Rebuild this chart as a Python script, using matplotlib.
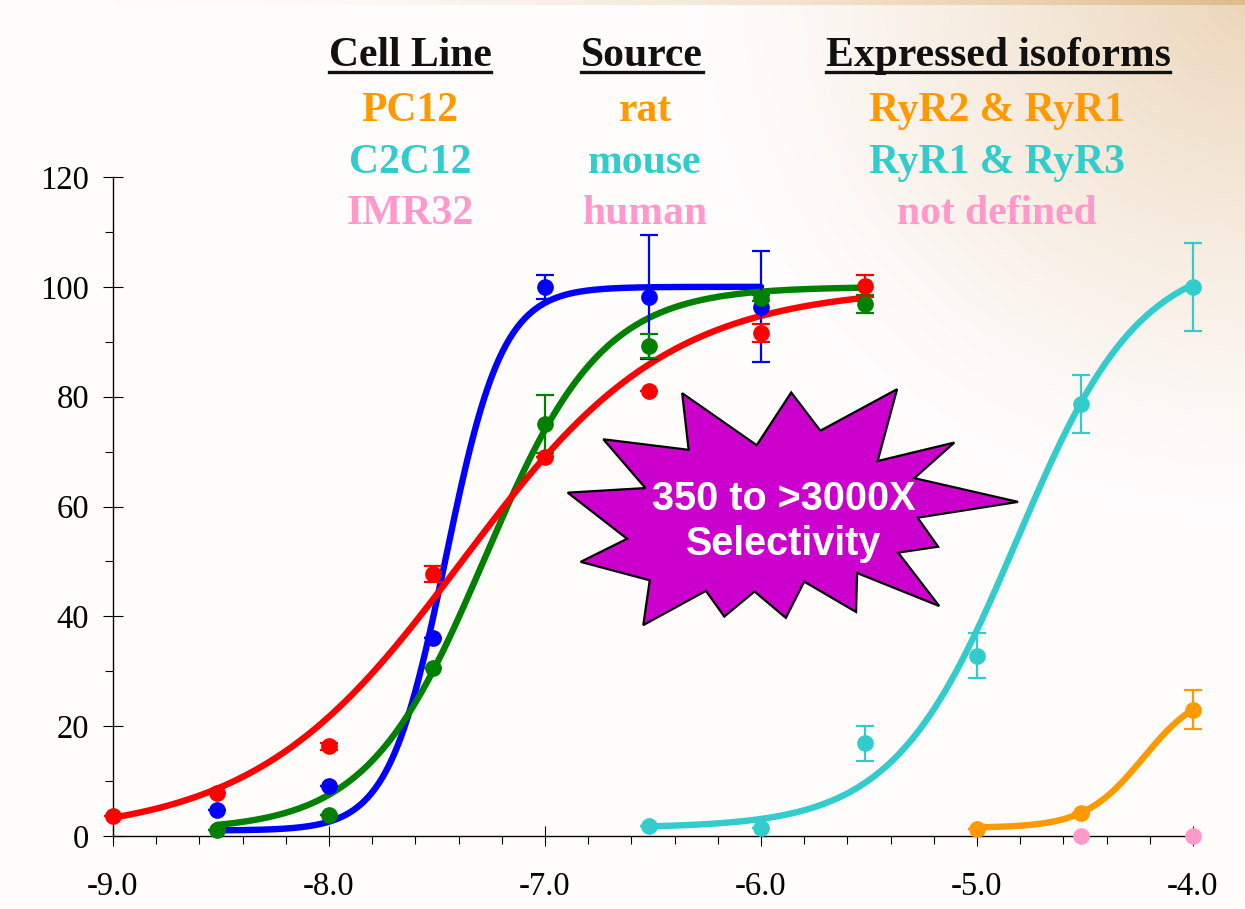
import numpy as np
import matplotlib
matplotlib.use("Agg")
import matplotlib.pyplot as plt
from matplotlib.patches import Polygon
from matplotlib.ticker import MultipleLocator, FormatStrFormatter

# log [compound] (M) for each cell line / series
red_x = [-9.0, -8.52, -8.0, -7.52, -7.0, -6.52, -6.0, -5.52]
red_y = [3.6, 7.8, 16.3, 47.7, 69.0, 81.0, 91.6, 100.2]
red_err = [0, 0, 0.7, 1.4, 0, 0, 1.6, 2.0]

blue_x = [-8.52, -8.0, -7.52, -7.0, -6.52, -6.0]
blue_y = [4.7, 9.1, 36.0, 100.0, 98.2, 96.4]
blue_err = [0, 0, 0, 2.2, 11.3, 10.1]

green_x = [-8.52, -8.0, -7.52, -7.0, -6.52, -6.0, -5.52]
green_y = [1.1, 3.8, 30.6, 75.0, 89.2, 98.0, 96.9]
green_err = [0, 0, 0, 5.3, 2.2, 0.5, 1.6]

c2c12_x = [-6.52, -6.0, -5.52, -5.0, -4.52, -4.0]
c2c12_y = [1.8, 1.5, 16.9, 32.8, 78.7, 100.0]
c2c12_err = [0, 0, 3.2, 4.1, 5.3, 8.0]

pc12_x = [-5.0, -4.52, -4.0]
pc12_y = [1.3, 4.2, 23.0]
pc12_err = [0, 0, 3.6]

imr32_x = [-4.52, -4.0]
imr32_y = [0.0, 0.0]

# fitted curves: bottom, top, logEC50, hill slope, x-range
red_fit = (0.0, 100.0, -7.385, 0.905, -9.0, -5.52)
blue_fit = (1.0, 100.0, -7.46, 3.3, -8.52, -6.0)
green_fit = (1.0, 100.0, -7.28, 1.6, -8.52, -5.52)
c2c12_fit = (1.5, 106.0, -4.817, 1.527, -6.52, -4.0)
pc12_fit = (1.5, 27.0, -4.23, 3.2, -5.0, -4.0)

table_cols = ["Cell Line", "Source", "Expressed isoforms"]
table_rows = [["PC12", "rat", "RyR2 & RyR1"],
              ["C2C12", "mouse", "RyR1 & RyR3"],
              ["IMR32", "human", "not defined"]]

RED, BLUE, GREEN = "#FF0000", "#0000FF", "#008000"
ORANGE, CYAN, PINK = "#FF9900", "#33CCCC", "#FF99CC"
PURPLE = "#CC00CC"

W, H = 1245, 909


def hill(x, bottom, top, ec50, h):
    return bottom + (top - bottom) / (1 + 10 ** ((ec50 - x) * h))


def fpx(x, y):
    return x / W, 1 - y / H


fig = plt.figure(figsize=(W / 100, H / 100), dpi=100)

# background gradient (slide backdrop)
bg = fig.add_axes([0, 0, 1, 1], zorder=-10)
yy, xx = np.mgrid[0:H, 0:W]
d = np.sqrt(((W - xx) / 560.0) ** 2 + (yy / 520.0) ** 2)
t = np.clip(1 - d, 0, 1) ** 1.3 * 0.5
tan = np.array([0.85, 0.69, 0.47])
base = np.array([1.0, 0.992, 0.992])
img = base * (1 - t[..., None]) + tan * t[..., None]
strip = yy < 5
ts = (xx / W) ** 2 * 0.85
img[strip] = (base * (1 - ts[..., None]) + tan * ts[..., None])[strip]
bg.imshow(img, aspect="auto", extent=[0, 1, 0, 1])
bg.axis("off")

ax = fig.add_axes([113 / W, 1 - 836 / H, 1080 / W, 659 / H])
ax.patch.set_alpha(0)

curves = [(blue_fit, BLUE), (green_fit, GREEN), (red_fit, RED),
          (c2c12_fit, CYAN), (pc12_fit, ORANGE)]
for (b, tp, ec, h, x0, x1), col in curves:
    xs = np.linspace(x0, x1, 300)
    ax.plot(xs, hill(xs, b, tp, ec, h), color=col, lw=4.6, zorder=3,
            solid_capstyle="round", clip_on=False)

series = [(blue_x, blue_y, blue_err, BLUE),
          (green_x, green_y, green_err, GREEN),
          (red_x, red_y, red_err, RED),
          (c2c12_x, c2c12_y, c2c12_err, CYAN),
          (pc12_x, pc12_y, pc12_err, ORANGE)]
for xs, ys, es, col in series:
    ax.errorbar(xs, ys, yerr=es, fmt="o", color=col, ms=11, mec=col,
                elinewidth=1.6, capsize=6.5, capthick=1.6, zorder=4,
                clip_on=False)
ax.plot(imr32_x, imr32_y, "o", color=PINK, ms=11, mec=PINK, zorder=4,
        clip_on=False)

ax.set_xlim(-9.0, -4.0)
ax.set_ylim(0, 120)
ax.spines["top"].set_visible(False)
ax.spines["right"].set_visible(False)
for s in ("left", "bottom"):
    ax.spines[s].set_linewidth(1.0)
ax.xaxis.set_major_locator(MultipleLocator(1.0))
ax.xaxis.set_minor_locator(MultipleLocator(0.2))
ax.xaxis.set_major_formatter(FormatStrFormatter("%.1f"))
ax.yaxis.set_major_locator(MultipleLocator(20))
ax.yaxis.set_minor_locator(MultipleLocator(10))
ax.tick_params(which="major", direction="inout", length=14.4, width=0.8)
ax.tick_params(which="minor", direction="out", length=5.5, width=0.8)
ax.tick_params(axis="x", which="major", pad=18.5)
ax.tick_params(axis="y", which="major", pad=10)
for lab in ax.get_xticklabels() + ax.get_yticklabels():
    lab.set_fontfamily("Liberation Serif")
    lab.set_fontsize(23.5)

# starburst callout
star = [(0.527, 0.672), (0.596, 0.593), (0.628, 0.673), (0.655, 0.615),
        (0.726, 0.678), (0.708, 0.569), (0.779, 0.597), (0.742, 0.543),
        (0.838, 0.507), (0.745, 0.483), (0.764, 0.439), (0.727, 0.430),
        (0.765, 0.349), (0.689, 0.399), (0.688, 0.340), (0.640, 0.386),
        (0.623, 0.331), (0.594, 0.371), (0.566, 0.333), (0.549, 0.372),
        (0.491, 0.320), (0.497, 0.388), (0.433, 0.416), (0.476, 0.451),
        (0.421, 0.521), (0.493, 0.528), (0.454, 0.602), (0.533, 0.586)]
ax.add_patch(Polygon(star, closed=True, transform=ax.transAxes,
                     facecolor=PURPLE, edgecolor="black", lw=1.6, zorder=5))
fig.text(*fpx(784, 510), "350 to >3000X", ha="center", va="baseline",
         color="white", fontsize=28.5, fontweight="bold",
         family="Liberation Sans", zorder=6)
fig.text(*fpx(784, 555), "Selectivity", ha="center", va="baseline",
         color="white", fontsize=28.5, fontweight="bold",
         family="Liberation Sans", zorder=6)

# table heading
col_x = [410, 642, 998]
row_y = [121, 173, 224]
row_colors = [ORANGE, CYAN, PINK]
heads = []
for cx, name in zip(col_x, table_cols):
    heads.append(fig.text(*fpx(cx, 66), name, ha="center", va="baseline",
                          fontsize=30, fontweight="bold",
                          family="Liberation Serif", color="#111111"))
for ry, row, col in zip(row_y, table_rows, row_colors):
    for cx, txt in zip([410, 645, 997], row):
        fig.text(*fpx(cx, ry), txt, ha="center", va="baseline", fontsize=30,
                 fontweight="bold", family="Liberation Serif", color=col)

fig.canvas.draw()
r = fig.canvas.get_renderer()
for h in heads:
    bb = h.get_window_extent(r)
    yl = 1 - 72 / H
    fig.add_artist(plt.Line2D([bb.x0 / W, bb.x1 / W], [yl, yl],
                              color="#111111", lw=2.4,
                              transform=fig.transFigure))

fig.savefig("out.png", dpi=100)
